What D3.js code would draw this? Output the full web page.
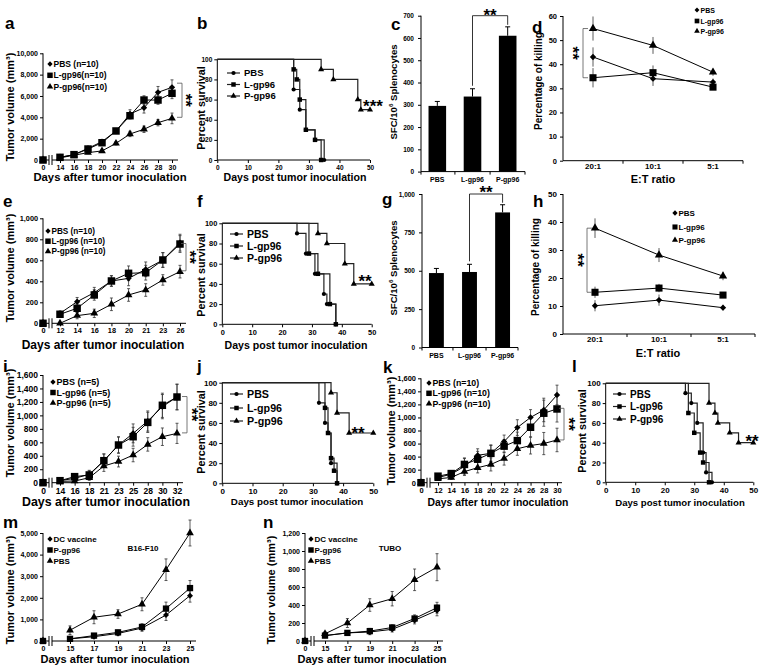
<!DOCTYPE html>
<html><head><meta charset="utf-8">
<script src="https://cdn.jsdelivr.net/npm/d3@7"></script>
<style>
body{margin:0;background:#fff}
svg{display:block;background:#fff}
</style></head><body>
<svg id="fig" width="770" height="665"></svg>
<script>
// ================= DATA =================
const groups = ["PBS", "L-gp96", "P-gp96"];
const killCats = ["20:1", "10:1", "5:1"];
const kmYTicks = [0, 20, 40, 60, 80, 100];
const kmXTicks = [0, 10, 20, 30, 40, 50];

// a
const aDays = [0, 14, 16, 18, 20, 22, 24, 26, 28, 30];
const aPBS = [0, 250, 500, 1090, 1720, 2720, 4310, 4900, 6340, 6810];
const aL   = [0, 250, 500, 1030, 1620, 2720, 4150, 5620, 5620, 6250];
const aP   = [0, 200, 450, 690, 850, 1560, 2440, 2880, 3500, 3900];
const aPBSe = [0, 80, 100, 150, 200, 200, 400, 500, 550, 700];
const aLe   = [0, 80, 100, 150, 200, 200, 300, 400, 400, 500];
const aPe   = [0, 60, 80, 100, 150, 150, 250, 300, 300, 500];
const aYTicks = [0, 2000, 4000, 6000, 8000, 10000];
const aLegend = ["PBS (n=10)", "L-gp96(n=10)", "P-gp96(n=10)"];
const aBracket = [7200, 4000];

// b
const bPBS = [[25, 70], [27, 50], [29, 30], [32, 20], [35, 0]];
const bL   = [[25, 90], [26, 80], [27, 60], [29, 30], [32, 20], [34, 0]];
const bP   = [[34, 90], [38, 80], [46, 60], [47, 50]];
const bPEnd = 50;

// c
const cVals = [295, 337, 610];
const cErr  = [20, 35, 40];
const cYTicks = [0, 100, 200, 300, 400, 500, 600, 700];

// d
const dPBS = [43, 34, 32.6];
const dL   = [34.4, 36.5, 30.5];
const dP   = [54.8, 47.8, 36.7];
const dPBSe = [4, 3, 1.5];
const dLe   = [4, 3, 1];
const dPe   = [5, 3.5, 1.5];
const dYTicks = [0, 10, 20, 30, 40, 50, 60];

// e
const eDays = [0, 12, 14, 16, 18, 20, 21, 23, 26];
const ePBS = [0, 95, 206, 292, 403, 428, 514, 603, 768];
const eL   = [0, 86, 143, 270, 403, 476, 482, 603, 755];
const eP   = [0, 0, 73, 95, 181, 270, 317, 413, 492];
const ePBSe = [0, 20, 40, 50, 50, 70, 70, 70, 80];
const eLe   = [0, 20, 40, 50, 50, 70, 70, 70, 80];
const ePe   = [0, 0, 30, 40, 60, 60, 60, 50, 60];
const eYTicks = [0, 200, 400, 600, 800, 1000];
const eLegend = ["PBS (n=10)", "L-gp96 (n=10)", "P-gp96 (n=10)"];
const eBracket = [760, 500];

// f
const fPBS = [[25, 90], [28, 70], [31, 50], [34, 30], [35, 20], [38, 0]];
const fL   = [[29, 70], [32, 50], [36, 20], [38, 0]];
const fP   = [[32, 90], [35, 80], [41, 60], [44, 40]];
const fPEnd = 50;

// g
const gVals = [485, 492, 880];
const gErr  = [30, 50, 50];
const gYTicks = [0, 250, 500, 750, 1000];

// h
const hPBS = [10.1, 12.1, 9.4];
const hL   = [14.9, 16.4, 13.9];
const hP   = [37.8, 28.2, 20.7];
const hPBSe = [2, 2, 1];
const hLe   = [2, 1.5, 1];
const hPe   = [3.5, 2.5, 1.5];
const hYTicks = [0, 10, 20, 30, 40, 50];

// i
const iDays = [0, 14, 16, 18, 21, 23, 25, 28, 30, 32];
const iPBS = [0, 30, 65, 124, 327, 560, 733, 916, 1130, 1273];
const iL   = [0, 30, 90, 115, 327, 560, 683, 896, 1150, 1273];
const iP   = [0, 20, 25, 74, 248, 314, 411, 569, 683, 733];
const iPBSe = [0, 20, 30, 60, 100, 120, 140, 150, 180, 190];
const iLe   = [0, 20, 30, 60, 100, 120, 140, 150, 180, 190];
const iPe   = [0, 10, 20, 40, 80, 80, 100, 100, 130, 150];
const iYTicks = [0, 200, 400, 600, 800, 1000, 1200, 1400, 1600];
const iLegend = ["PBS (n=5)", "L-gp96 (n=5)", "P-gp96 (n=5)"];
const iBracket = [1280, 740];

// j
const jPBS = [[32, 80], [34, 60], [35, 50], [36, 20], [38, 0]];
const jL   = [[34, 75], [35, 50], [36, 25], [37, 12.5], [38, 0]];
const jP   = [[36, 90], [38, 70], [42, 50]];
const jPEnd = 50;

// k
const kDays = [0, 12, 14, 16, 18, 20, 22, 24, 26, 28, 30];
const kPBS = [0, 80, 130, 250, 420, 450, 630, 845, 1000, 1115, 1345];
const kL   = [0, 100, 140, 280, 360, 450, 560, 645, 850, 1065, 1130];
const kP   = [0, 60, 80, 170, 230, 280, 370, 520, 570, 600, 655];
const kPBSe = [0, 30, 40, 120, 100, 120, 100, 120, 120, 180, 150];
const kLe   = [0, 40, 40, 100, 120, 130, 100, 130, 150, 200, 200];
const kPe   = [0, 20, 30, 60, 80, 100, 100, 100, 130, 170, 180];
const kYTicks = [0, 200, 400, 600, 800, 1000, 1200, 1400, 1600];
const kLegend = ["PBS (n=10)", "L-gp96 (n=10)", "P-gp96 (n=10)"];
const kBracket = [1140, 655];

// l
const lPBS = [[27, 90], [29, 80], [31, 60], [33, 30], [34, 10], [36, 0]];
const lL   = [[28, 70], [30, 50], [32, 30], [33, 20], [35, 0]];
const lP   = [[35, 80], [37, 70], [38, 60], [42, 50], [45, 40]];
const lPEnd = 50;

// m
const mDays = [0, 15, 17, 19, 21, 23, 25];
const mDC  = [0, 100, 200, 350, 600, 1200, 2100];
const mPg  = [0, 100, 250, 400, 650, 1500, 2450];
const mPBS = [0, 500, 1100, 1250, 1700, 3300, 5000];
const mDCe  = [0, 50, 80, 100, 150, 250, 300];
const mPge  = [0, 50, 80, 100, 150, 300, 350];
const mPBSe = [0, 200, 300, 200, 300, 500, 600];
const mYTicks = [0, 1000, 2000, 3000, 4000, 5000];
const mnLegend = ["DC vaccine", "P-gp96", "PBS"];

// n
const nDays = [0, 15, 17, 19, 21, 23, 25];
const nDC  = [0, 60, 90, 100, 130, 230, 340];
const nPg  = [0, 60, 90, 110, 150, 250, 370];
const nPBS = [0, 80, 200, 400, 470, 680, 820];
const nDCe  = [0, 15, 20, 30, 30, 40, 60];
const nPge  = [0, 15, 20, 30, 30, 40, 60];
const nPBSe = [0, 20, 50, 70, 80, 120, 150];
const nYTicks = [0, 200, 400, 600, 800, 1000, 1200];

// ================= HELPERS =================
const FONT = "'Liberation Sans', Arial, Helvetica, sans-serif";
const svg = d3.select("#fig");
const diamond = {draw(ctx, size){const r = Math.sqrt(size/2); ctx.moveTo(0,-r); ctx.lineTo(r,0); ctx.lineTo(0,r); ctx.lineTo(-r,0); ctx.closePath();}};
const SYM = {diamond: diamond, square: d3.symbolSquare, triangle: d3.symbolTriangle, circle: d3.symbolCircle};

function T(g, x, y, s, size, anchor, rot){
  return g.append("text").attr("font-family", FONT).attr("font-weight", "bold").attr("font-size", size)
    .attr("text-anchor", anchor || "start").attr("fill", "#000")
    .attr("transform", `translate(${x},${y})` + (rot ? ` rotate(${rot})` : "")).text(s);
}
function mark(g, type, x, y, size){
  g.append("path").attr("d", d3.symbol().type(SYM[type]).size(size)()).attr("transform", `translate(${x},${y})`).attr("fill", "#000");
}
function ax(a, size){
  a.attr("font-family", FONT).attr("font-weight", "bold").attr("font-size", size);
  a.selectAll(".tick line").attr("stroke", "#000");
  a.selectAll(".tick text").attr("fill", "#000");
  a.select(".domain").remove();
  return a;
}
function stars(g, cx, cy, s, rot, size){
  size = size || 17;
  if (rot) T(g, cx - 0.55*size, cy, s, size, "middle", 90);
  else T(g, cx, cy + 0.55*size, s, size, "middle");
}
function letter(g, x, y, s){ T(g, x, y, s, 17); }
function yTitleTumor(g, x, y, size){
  T(g, x, y, "Tumor volume (mm³)", size, "middle", -90);
}

// ---------- growth curve ----------
function growth(c){
  const g = svg.append("g");
  const y = d3.scaleLinear().domain([0, c.yMax]).range([c.y0, c.y1]);
  const xp = d3.scalePoint().domain(c.days.slice(1)).range([c.xa, c.xb]);
  const xz = d3.scalePoint().domain(c.days.slice(0, 1)).range([c.left, c.left]);
  const x = d => d === c.days[0] ? xz(d) : xp(d);
  ax(g.append("g").attr("transform", `translate(${c.left},0)`)
    .call(d3.axisLeft(y).tickValues(c.yTicks).tickFormat(d3.format(",")).tickSize(3).tickPadding(2)), c.tf);
  ax(g.append("g").attr("transform", `translate(0,${c.y0})`)
    .call(d3.axisBottom(xp).tickSize(3).tickPadding(2)), c.tf);
  ax(g.append("g").attr("transform", `translate(0,${c.y0})`)
    .call(d3.axisBottom(xz).tickSize(0).tickPadding(5)), c.tf);
  g.append("path").attr("fill", "none").attr("stroke", "#000").attr("stroke-width", 1)
    .attr("d", `M${c.left},${y(c.yMax)}V${c.y0}H${c.left+6}M${c.left+9},${c.y0}H${c.xEnd}M${c.left+6},${c.y0-5}v10M${c.left+9},${c.y0-5}v10`);
  const line = d3.line().x(d => x(d.d)).y(d => y(d.v));
  c.series.forEach(s => {
    const pts = c.days.map((d, i) => ({d, v: s.v[i], e: s.e[i]}));
    g.append("path").attr("fill", "none").attr("stroke", "#000").attr("stroke-width", 1).attr("d", line(pts.slice(1)));
    pts.forEach(p => {
      if (p.e > 0) {
        const xx = x(p.d), lo = y(Math.max(0, p.v - p.e)), hi = y(p.v + p.e);
        g.append("path").attr("stroke", "#333").attr("stroke-width", 0.8).attr("fill", "none")
          .attr("d", `M${xx},${lo}V${hi}M${xx-1.5},${lo}h3M${xx-1.5},${hi}h3`);
      }
    });
  });
  c.series.forEach(s => c.days.forEach((d, i) => mark(g, s.sym, x(d), y(s.v[i]), c.ms[s.sym])));
  const L = c.legend;
  L.labels.forEach((lab, i) => {
    const yy = L.y + i*L.dy;
    mark(g, c.series[i].sym, L.x, yy, L.ms[c.series[i].sym]);
    T(g, L.x + L.tx, yy + L.fs*0.36, lab, L.fs);
  });
  if (c.br) {
    const b = c.br;
    g.append("path").attr("fill", "none").attr("stroke", "#555").attr("stroke-width", 0.8)
      .attr("d", `M${b.x-5},${y(b.v[0])}H${b.x}V${y(b.v[1])}H${b.x-5}`);
    stars(g, b.sx, (y(b.v[0]) + y(b.v[1]))/2, "**", true);
  }
  if (c.note) T(g, c.note.x, c.note.y, c.note.t, c.note.fs, "middle");
  T(g, c.xt.x, c.xt.y, "Days after tumor inoculation", c.xt.fs, "middle");
  yTitleTumor(g, c.yt.x, c.yt.y, c.yt.fs);
  letter(g, c.lt.x, c.lt.y, c.lt.t);
}

// ---------- Kaplan-Meier ----------
function km(c){
  const g = svg.append("g");
  const x = d3.scaleLinear().domain([0, 50]).range([c.left, c.right]);
  const y = d3.scaleLinear().domain([0, 100]).range([c.y0, c.y1]);
  ax(g.append("g").attr("transform", `translate(${c.left},0)`)
    .call(d3.axisLeft(y).tickValues(kmYTicks).tickSize(3).tickPadding(2)), c.tf);
  ax(g.append("g").attr("transform", `translate(0,${c.y0})`)
    .call(d3.axisBottom(x).tickValues(kmXTicks).tickSize(3).tickPadding(2)), c.tf);
  g.append("path").attr("fill", "none").attr("stroke", "#000").attr("stroke-width", 1)
    .attr("d", `M${c.left},${c.y1}V${c.y0}H${c.right}`);
  const line = d3.line().x(d => x(d[0])).y(d => y(d[1])).curve(d3.curveStepAfter);
  const all = c.series.map(s => {
    const pts = [[0, 100], ...s.steps];
    if (s.end) pts.push([s.end, s.steps[s.steps.length-1][1]]);
    return pts;
  });
  c.series.forEach((s, k) => {
    g.append("path").attr("fill", "none").attr("stroke", "#222").attr("stroke-width", 1.2).attr("d", line(all[k]));
  });
  c.series.forEach((s, k) => all[k].slice(1).forEach(p => mark(g, s.sym, x(p[0]), y(p[1]), c.ms[s.sym])));
  const L = c.legend;
  groups.forEach((lab, i) => {
    const yy = L.ys[i];
    g.append("line").attr("x1", L.x).attr("x2", L.x + 13).attr("y1", yy).attr("y2", yy).attr("stroke", "#222").attr("stroke-width", 1.2);
    mark(g, c.series[i].sym, L.x + 6.5, yy, c.ms[c.series[i].sym]);
    T(g, L.x + 17, yy + L.fs*0.36, lab, L.fs);
  });
  stars(g, c.st.x, c.st.y, c.st.t, false);
  T(g, c.xt.x, c.xt.y, "Days post tumor inoculation", c.xt.fs, "middle");
  T(g, c.yt.x, c.yt.y, "Percent survival", c.yt.fs, "middle", -90);
  letter(g, c.lt.x, c.lt.y, c.lt.t);
}

// ---------- bar chart ----------
function bars(c){
  const g = svg.append("g");
  const xb = d3.scaleBand().domain(groups).range(c.range).paddingInner(c.pi).paddingOuter(c.po);
  const xc = k => xb(k) + xb.bandwidth()/2;
  const y = d3.scaleLinear().domain([0, c.yMax]).range([c.y0, c.y1]);
  ax(g.append("g").attr("transform", `translate(${c.left},0)`)
    .call(d3.axisLeft(y).tickValues(c.yTicks).tickFormat(d3.format(",")).tickSize(3).tickPadding(4)), c.tf);
  g.append("path").attr("fill", "none").attr("stroke", "#000").attr("stroke-width", 1)
    .attr("d", `M${c.left},${c.y1}V${c.y0}H${c.right}`);
  const bnd = [c.left, ...groups.map(k => xb(k) + xb.bandwidth() + xb.step()*c.pi/2)];
  bnd[bnd.length-1] = c.right;
  bnd.forEach(b => g.append("line").attr("x1", b).attr("x2", b).attr("y1", c.y0).attr("y2", c.y0 + 3).attr("stroke", "#000"));
  groups.forEach((k, i) => {
    g.append("rect").attr("x", xb(k)).attr("width", xb.bandwidth()).attr("y", y(c.vals[i])).attr("height", c.y0 - y(c.vals[i])).attr("fill", "#000");
    const xx = xc(k), hi = y(c.vals[i] + c.errs[i]);
    g.append("path").attr("fill", "none").attr("stroke", "#000").attr("stroke-width", 1)
      .attr("d", `M${xx},${y(c.vals[i])}V${hi}M${xx-2.5},${hi}h5`);
    T(g, xx, c.y0 + c.lfs + 3, k, c.lfs, "middle");
  });
  const b1 = xc(groups[1]), b2 = xc(groups[2]), top = y(c.yMax);
  g.append("path").attr("fill", "none").attr("stroke", "#000").attr("stroke-width", 0.8)
    .attr("d", `M${b1},${y(c.vals[1] + c.errs[1]) - 3}V${top}H${b2}V${y(c.vals[2] + c.errs[2]) - 2}`);
  stars(g, (b1 + b2)/2, c.sty, "**", false);
  const t = T(g, c.yt.x, c.yt.y, "SFC/10", c.yt.fs, "middle", -90);
  t.append("tspan").attr("font-size", c.yt.fs*0.65).attr("dy", -c.yt.fs*0.4).text("6");
  t.append("tspan").attr("dy", c.yt.fs*0.4).text(" Splenocytes");
  letter(g, c.lt.x, c.lt.y, c.lt.t);
}

// ---------- killing ----------
function kill(c){
  const g = svg.append("g");
  const xb = d3.scaleBand().domain(killCats).range([c.left, c.right]);
  const x = k => xb(k) + xb.bandwidth()/2;
  const y = d3.scaleLinear().domain([0, c.yMax]).range([c.y0, c.y1]);
  ax(g.append("g").attr("transform", `translate(${c.left},0)`)
    .call(d3.axisLeft(y).tickValues(c.yTicks).tickSize(3).tickPadding(3)), c.tf);
  g.append("path").attr("fill", "none").attr("stroke", "#000").attr("stroke-width", 1)
    .attr("d", `M${c.left},${c.y1}V${c.y0}H${c.right}`);
  killCats.forEach(k => {
    const b = xb(k) + xb.bandwidth();
    g.append("line").attr("x1", b).attr("x2", b).attr("y1", c.y0).attr("y2", c.y0 + 3).attr("stroke", "#000");
    T(g, x(k), c.y0 + c.xly, k, c.xfs, "middle");
  });
  const line = d3.line().x(d => x(d.k)).y(d => y(d.v));
  c.series.forEach(s => {
    const pts = killCats.map((k, i) => ({k, v: s.v[i], e: s.e[i]}));
    g.append("path").attr("fill", "none").attr("stroke", "#000").attr("stroke-width", 1).attr("d", line(pts));
    pts.forEach(p => {
      g.append("path").attr("fill", "none").attr("stroke", "#333").attr("stroke-width", 0.8)
        .attr("d", `M${x(p.k)},${y(p.v - p.e)}V${y(p.v + p.e)}`);
    });
  });
  c.series.forEach(s => killCats.forEach((k, i) => mark(g, s.sym, x(k), y(s.v[i]), c.ms[s.sym])));
  const L = c.legend;
  groups.forEach((lab, i) => {
    mark(g, c.series[i].sym, L.x, L.ys[i], L.ms[c.series[i].sym]);
    T(g, L.x + 3.5, L.ys[i] + L.fs*0.36, lab, L.fs);
  });
  const b = c.br;
  g.append("path").attr("fill", "none").attr("stroke", "#555").attr("stroke-width", 0.8)
    .attr("d", `M${b.x+5},${y(b.v[0])}H${b.x}V${y(b.v[1])}H${b.x+5}`);
  stars(g, b.sx, (y(b.v[0]) + y(b.v[1]))/2, "**", true);
  T(g, c.xt.x, c.xt.y, "E:T ratio", c.xt.fs, "middle");
  T(g, c.yt.x, c.yt.y, "Percentage of killing", c.yt.fs, "middle", -90);
  letter(g, c.lt.x, c.lt.y, c.lt.t);
}

// ================= PANELS =================
const gms = {diamond: 20, square: 56, triangle: 26};
const gls = {diamond: 14, square: 30, triangle: 18};
const kms = {circle: 14, square: 20, triangle: 16};

growth({days: aDays, series: [{v: aPBS, e: aPBSe, sym: "diamond"}, {v: aL, e: aLe, sym: "square"}, {v: aP, e: aPe, sym: "triangle"}],
  left: 43, xa: 60, xb: 172, xEnd: 178, y0: 160, y1: 53.3, yMax: 10000, yTicks: aYTicks, tf: 7, ms: gms,
  legend: {labels: aLegend, x: 50, y: 64, dy: 11.3, fs: 8.5, tx: 3.5, ms: gls},
  br: {x: 182, v: aBracket, sx: 189}, xt: {x: 110, y: 181, fs: 11.3}, yt: {x: 14, y: 107, fs: 11}, lt: {x: 5, y: 29, t: "a"}});

km({left: 217.3, right: 370, y0: 160, y1: 59.3, tf: 6.5, ms: kms,
  series: [{steps: bPBS, sym: "circle"}, {steps: bL, sym: "square"}, {steps: bP, end: bPEnd, sym: "triangle"}],
  legend: {x: 227, ys: [73, 84.5, 96], fs: 9.5}, st: {x: 373, y: 103, t: "***"},
  xt: {x: 295, y: 181, fs: 10.6}, yt: {x: 205, y: 108, fs: 10.8}, lt: {x: 197, y: 29, t: "b"}});

bars({range: [425, 520], pi: 0.5, po: 0.1, left: 421, right: 525, y0: 171.6, y1: 15.7, yMax: 700, yTicks: cYTicks, tf: 6.5,
  vals: cVals, errs: cErr, lfs: 7, sty: 11.5, yt: {x: 397, y: 92, fs: 9.6}, lt: {x: 391, y: 30, t: "c"}});

kill({left: 563, right: 743, y0: 160.7, y1: 16, yMax: 60, yTicks: dYTicks, tf: 7.5, xfs: 8, xly: 8.3,
  ms: {diamond: 20, square: 50, triangle: 30},
  series: [{v: dPBS, e: dPBSe, sym: "diamond"}, {v: dL, e: dLe, sym: "square"}, {v: dP, e: dPe, sym: "triangle"}],
  legend: {x: 697, ys: [10, 21, 31], fs: 7, ms: {diamond: 12, square: 22, triangle: 14}},
  br: {x: 583, v: [dP[0], dL[0]], sx: 576}, xt: {x: 653, y: 182.5, fs: 11}, yt: {x: 542, y: 81, fs: 10}, lt: {x: 532, y: 33, t: "d"}});

growth({days: eDays, series: [{v: ePBS, e: ePBSe, sym: "diamond"}, {v: eL, e: eLe, sym: "square"}, {v: eP, e: ePe, sym: "triangle"}],
  left: 43, xa: 60, xb: 180, xEnd: 186, y0: 323.3, y1: 218.3, yMax: 1000, yTicks: eYTicks, tf: 7.3, ms: gms,
  legend: {labels: eLegend, x: 48, y: 231, dy: 10.2, fs: 8.2, tx: 3.5, ms: gls},
  br: {x: 186, v: eBracket, sx: 193}, xt: {x: 103, y: 349, fs: 12}, yt: {x: 14, y: 268, fs: 11}, lt: {x: 3, y: 207, t: "e"}});

km({left: 222.3, right: 371.7, y0: 324.3, y1: 223.3, tf: 7.4, ms: kms,
  series: [{steps: fPBS, sym: "circle"}, {steps: fL, sym: "square"}, {steps: fP, end: fPEnd, sym: "triangle"}],
  legend: {x: 230, ys: [234, 246, 258], fs: 10.5}, st: {x: 365, y: 278, t: "**"},
  xt: {x: 296, y: 349, fs: 10.6}, yt: {x: 205, y: 275, fs: 10.8}, lt: {x: 197, y: 207, t: "f"}});

bars({range: [424, 515], pi: 0.55, po: 0.15, left: 422, right: 518, y0: 347.5, y1: 194, yMax: 1000, yTicks: gYTicks, tf: 6.5,
  vals: gVals, errs: gErr, lfs: 7, sty: 189, yt: {x: 397, y: 268, fs: 9.6}, lt: {x: 382, y: 205, t: "g"}});

kill({left: 563, right: 755, y0: 334, y1: 194, yMax: 50, yTicks: hYTicks, tf: 8, xfs: 8, xly: 8.3,
  ms: {diamond: 20, square: 50, triangle: 30},
  series: [{v: hPBS, e: hPBSe, sym: "diamond"}, {v: hL, e: hLe, sym: "square"}, {v: hP, e: hPe, sym: "triangle"}],
  legend: {x: 675, ys: [213, 227, 240], fs: 8, ms: {diamond: 14, square: 26, triangle: 16}},
  br: {x: 587, v: [hP[0], hL[0]], sx: 581}, xt: {x: 658, y: 356.5, fs: 11}, yt: {x: 539, y: 267, fs: 10}, lt: {x: 533, y: 207, t: "h"}});

growth({days: iDays, series: [{v: iPBS, e: iPBSe, sym: "diamond"}, {v: iL, e: iLe, sym: "square"}, {v: iP, e: iPe, sym: "triangle"}],
  left: 43, xa: 60, xb: 177, xEnd: 183, y0: 482.7, y1: 375, yMax: 1600, yTicks: iYTicks, tf: 8.5, ms: gms,
  legend: {labels: iLegend, x: 53, y: 382, dy: 10.5, fs: 9, tx: 3.5, ms: gls},
  br: {x: 187, v: iBracket, sx: 195}, xt: {x: 106, y: 506, fs: 12.4}, yt: {x: 14, y: 423, fs: 11}, lt: {x: 3, y: 372, t: "i"}});

km({left: 222.3, right: 373.3, y0: 483.3, y1: 382.7, tf: 8, ms: kms,
  series: [{steps: jPBS, sym: "circle"}, {steps: jL, sym: "square"}, {steps: jP, end: jPEnd, sym: "triangle"}],
  legend: {x: 230, ys: [394, 408, 421], fs: 10.7}, st: {x: 358, y: 430, t: "**"},
  xt: {x: 297, y: 505, fs: 9.8}, yt: {x: 205, y: 432, fs: 10.8}, lt: {x: 197, y: 372, t: "j"}});

growth({days: kDays, series: [{v: kPBS, e: kPBSe, sym: "diamond"}, {v: kL, e: kLe, sym: "square"}, {v: kP, e: kPe, sym: "triangle"}],
  left: 421, xa: 438, xb: 557, xEnd: 562, y0: 482.7, y1: 378.3, yMax: 1600, yTicks: kYTicks, tf: 7.5, ms: gms,
  legend: {labels: kLegend, x: 429, y: 383, dy: 10.3, fs: 8.8, tx: 3.5, ms: gls},
  br: {x: 564, v: kBracket, sx: 572}, xt: {x: 498, y: 506, fs: 10.4}, yt: {x: 395, y: 431, fs: 11}, lt: {x: 383, y: 373, t: "k"}});

km({left: 605.7, right: 753.3, y0: 482.3, y1: 383.3, tf: 8, ms: kms,
  series: [{steps: lPBS, sym: "circle"}, {steps: lL, sym: "square"}, {steps: lP, end: lPEnd, sym: "triangle"}],
  legend: {x: 613, ys: [394, 406.5, 419], fs: 10}, st: {x: 752, y: 438, t: "**"},
  xt: {x: 680, y: 506, fs: 9.6}, yt: {x: 586, y: 431, fs: 10.8}, lt: {x: 572, y: 372, t: "l"}});

growth({days: mDays, series: [{v: mDC, e: mDCe, sym: "diamond"}, {v: mPg, e: mPge, sym: "square"}, {v: mPBS, e: mPBSe, sym: "triangle"}],
  left: 43, xa: 70, xb: 190, xEnd: 196, y0: 641, y1: 533, yMax: 5000, yTicks: mYTicks, tf: 7, ms: {diamond: 18, square: 40, triangle: 26},
  legend: {labels: mnLegend, x: 50, y: 539, dy: 11, fs: 8, tx: 3.5, ms: gls},
  note: {x: 143, y: 551, t: "B16-F10", fs: 8},
  xt: {x: 115, y: 663, fs: 11}, yt: {x: 14, y: 590, fs: 11}, lt: {x: 3, y: 528, t: "m"}});

growth({days: nDays, series: [{v: nDC, e: nDCe, sym: "diamond"}, {v: nPg, e: nPge, sym: "square"}, {v: nPBS, e: nPBSe, sym: "triangle"}],
  left: 305, xa: 325, xb: 437, xEnd: 443, y0: 641, y1: 533, yMax: 1200, yTicks: nYTicks, tf: 7, ms: {diamond: 18, square: 40, triangle: 26},
  legend: {labels: mnLegend, x: 311, y: 539, dy: 11, fs: 8, tx: 3.5, ms: gls},
  note: {x: 390, y: 551, t: "TUBO", fs: 8},
  xt: {x: 372, y: 663, fs: 11}, yt: {x: 275, y: 590, fs: 11}, lt: {x: 263, y: 528, t: "n"}});
</script>
</body></html>
